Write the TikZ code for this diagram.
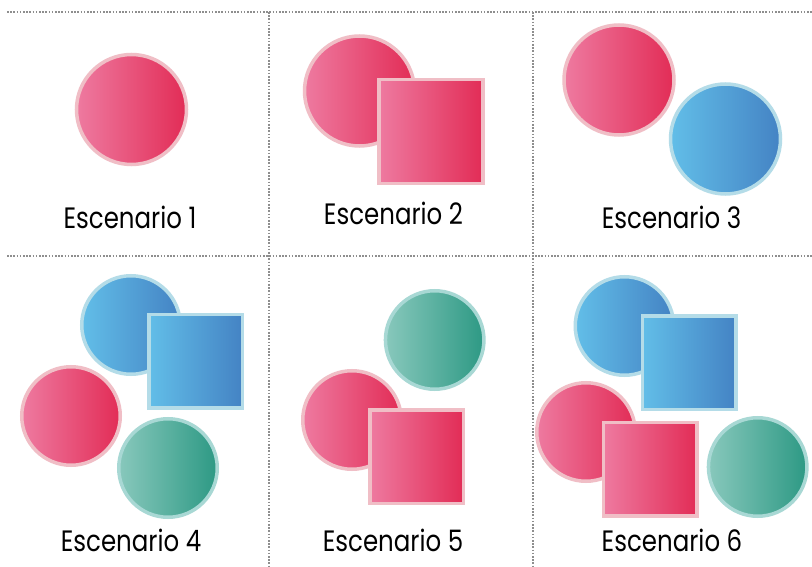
\documentclass[tikz,border=0pt]{standalone}
\usepackage{fontspec}
\setmainfont[FakeStretch=0.83]{Poppins}
\definecolor{pinkL}{HTML}{EE7AA0}
\definecolor{pinkR}{HTML}{E22C56}
\definecolor{pinkB}{HTML}{F0BEC6}
\definecolor{blueL}{HTML}{62BEE8}
\definecolor{blueR}{HTML}{4483C4}
\definecolor{blueB}{HTML}{B4DCE8}
\definecolor{tealL}{HTML}{88C8BC}
\definecolor{tealR}{HTML}{2D9984}
\definecolor{tealB}{HTML}{A8D8D4}
\definecolor{gridc}{HTML}{8E8E8E}
\tikzset{
  shp/.style={inner sep=0pt, outer sep=0pt, line width=3.5pt},
  pinkf/.style={shp, left color=pinkL, right color=pinkR, draw=pinkB},
  bluef/.style={shp, left color=blueL, right color=blueR, draw=blueB},
  tealf/.style={shp, left color=tealL, right color=tealR, draw=tealB},
  bigc/.style={circle, minimum size=110pt},
  smallc/.style={circle, minimum size=98.5pt},
  bigsq/.style={rectangle, minimum size=104pt},
  smallsq/.style={rectangle, minimum size=93.5pt},
  lbl/.style={anchor=base, inner sep=0pt, font=\fontsize{29.5}{32}\selectfont, text=black},
  gridline/.style={draw=gridc, line width=1.7pt, dash pattern=on 1.6pt off 1.6pt}
}
\begin{document}
\begin{tikzpicture}[x=1pt,y=-1pt]
\useasboundingbox (0,0) rectangle (812,567);
\fill[white] (0,0) rectangle (812,567);
% grid
\draw[gridline] (7,12) -- (812,12);
\draw[gridline] (7,256) -- (812,256);
\draw[gridline] (269,12) -- (269,567);
\draw[gridline] (533,12) -- (533,567);
% Scenario 1
\node[pinkf, bigc] (s1c) at (131.5,109.5) {};
\node[lbl] (t1) at (130,229) {Escenario 1};
% Scenario 2
\node[pinkf, bigc] (s2c) at (359.5,91) {};
\node[pinkf, bigsq] (s2s) at (431,131.5) {};
\node[lbl] (t2) at (393.5,225) {Escenario 2};
% Scenario 3
\node[pinkf, bigc] (s3p) at (619,80) {};
\node[bluef, bigc] (s3b) at (725.5,139) {};
\node[lbl] (t3) at (671.5,229) {Escenario 3};
% Scenario 4
\node[bluef, smallc] (s4b) at (131,325) {};
\node[bluef, smallsq] (s4s) at (195.5,361) {};
\node[pinkf, smallc] (s4p) at (71,416) {};
\node[tealf, smallc] (s4t) at (168,468) {};
\node[lbl] (t4) at (131,551.7) {Escenario 4};
% Scenario 5
\node[tealf, smallc] (s5t) at (434.7,340) {};
\node[pinkf, smallc] (s5p) at (352,420) {};
\node[pinkf, smallsq] (s5s) at (416.5,456.5) {};
\node[lbl] (t5) at (393,551.7) {Escenario 5};
% Scenario 6
\node[bluef, smallc] (s6b) at (624.5,326) {};
\node[bluef, smallsq] (s6bs) at (689,362.5) {};
\node[pinkf, smallc] (s6p) at (586,432) {};
\node[pinkf, smallsq] (s6ps) at (650.3,469) {};
\node[tealf, smallc] (s6t) at (757.7,467) {};
\node[lbl] (t6) at (672,551.7) {Escenario 6};
\end{tikzpicture}
\end{document}
